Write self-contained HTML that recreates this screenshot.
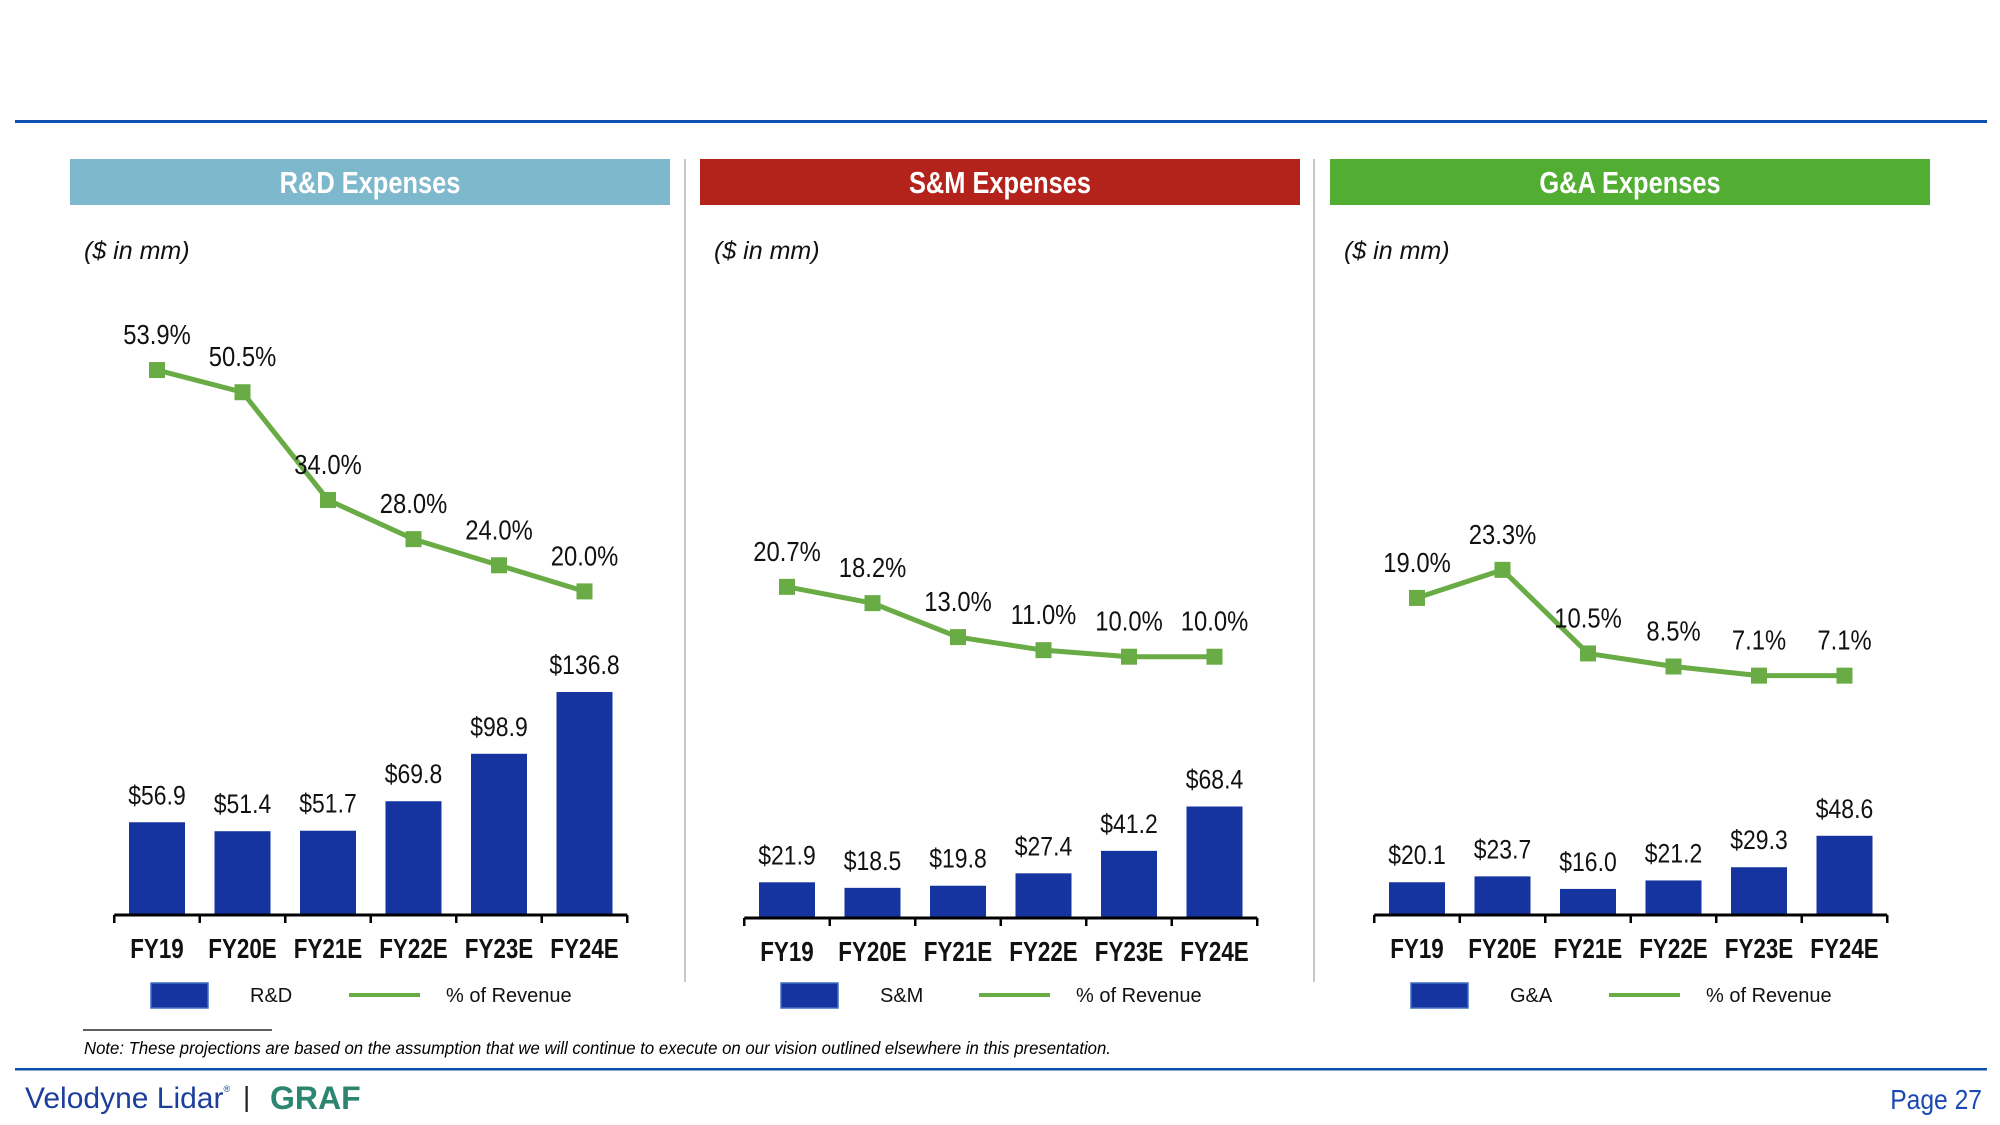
<!DOCTYPE html>
<html><head><meta charset="utf-8"><style>
html,body{margin:0;padding:0;background:#fff;}
svg{display:block;}
.n{font-family:"Liberation Sans Narrow","Liberation Sans",sans-serif;}
.s{font-family:"Liberation Sans",sans-serif;}
</style></head><body>
<svg id="chart" width="2000" height="1125" viewBox="0 0 2000 1125" xmlns="http://www.w3.org/2000/svg">
<rect x="15" y="120" width="1972" height="3" fill="#0f4fb0"/>
<rect x="15" y="1068" width="1972" height="2.5" fill="#0f4fb0"/>
<rect x="684" y="159" width="2" height="823" fill="#c8c8c8"/>
<rect x="1313" y="159" width="2" height="823" fill="#c8c8c8"/>
<line x1="83" y1="1030" x2="272" y2="1030" stroke="#000" stroke-width="1.2"/>
<text transform="translate(84,1054) scale(0.93,1)" class="n" font-style="italic" font-size="18" fill="#000">Note: These projections are based on the assumption that we will continue to execute on our vision outlined elsewhere in this presentation.</text>
<text x="25" y="1108" class="s" font-size="30" fill="#1d3f9c">Velodyne Lidar<tspan font-size="9" dy="-16">®</tspan></text>
<text x="243" y="1106" class="s" font-size="28" fill="#222">|</text>
<text x="270" y="1109" class="s" font-weight="bold" font-size="32" fill="#2c8571">GRAF</text>
<text transform="translate(1982,1109) scale(0.88,1)" text-anchor="end" class="n" font-size="28" fill="#1a49b4">Page 27</text>
<g id="panels"></g>
</svg>
<script>
const categories = ["FY19","FY20E","FY21E","FY22E","FY23E","FY24E"];
const rdValues = [56.9,51.4,51.7,69.8,98.9,136.8];
const rdPct = [53.9,50.5,34.0,28.0,24.0,20.0];
const smValues = [21.9,18.5,19.8,27.4,41.2,68.4];
const smPct = [20.7,18.2,13.0,11.0,10.0,10.0];
const gaValues = [20.1,23.7,16.0,21.2,29.3,48.6];
const gaPct = [19.0,23.3,10.5,8.5,7.1,7.1];
const panelTitles = ["R&D Expenses","S&M Expenses","G&A Expenses"];
const seriesNames = ["R&D","S&M","G&A"];

const NS="http://www.w3.org/2000/svg";
const root=document.getElementById('panels');
function mk(tag,attrs,parent){const e=document.createElementNS(NS,tag);for(const k in attrs)e.setAttribute(k,attrs[k]);(parent||root).appendChild(e);return e;}
function ntext(x,y,sx,attrs,parent){attrs.transform='translate('+x+','+y+') scale('+sx+',1)';return mk('text',attrs,parent);}
const colors=["#7eb8cc","#b3221b","#52ae32"];
const panels=[[rdValues,rdPct],[smValues,smPct],[gaValues,gaPct]];
const baselines=[915,918,915];
const pctY=v=>722-v*6.53;
const barH=v=>v*1.63;
panels.forEach((p,pi)=>{
  const ox=pi*630;
  const g=mk('g',{});
  
  
  const hdr=mk('rect',{x:70+ox,y:159,width:600,height:46,fill:colors[pi]},g);
  
  
  const ht=ntext(370+ox,193,0.82,{'text-anchor':'middle','class':'n','font-weight':'bold','font-size':31,fill:'#fff'},g);
  ht.textContent=panelTitles[pi];
  
  
  const un=mk('text',{x:84+ox,y:259,'class':'s','font-style':'italic','font-size':25,fill:'#111'},g);
  un.textContent='($ in mm)';
  
  
  const xc=i=>157+ox+i*85.5;
  const base=baselines[pi];
  const vals=p[0],pct=p[1];
  vals.forEach((v,i)=>{
    const b=mk('rect',{x:xc(i)-28,y:base-barH(v),width:56,height:barH(v),fill:'#1634a0'},g);
    
    
    const t=ntext(xc(i),base-barH(v)-18,0.85,{'text-anchor':'middle','class':'n','font-size':27,fill:'#111'},g);
    t.textContent='$'+v.toFixed(1);
    
    
    const c=ntext(xc(i),base+43,0.8,{'text-anchor':'middle','class':'n','font-weight':'bold','font-size':28,fill:'#111'},g);
    c.textContent=categories[i];
    
    
  });
  const ax=mk('line',{x1:xc(0)-42.75,y1:base,x2:xc(5)+42.75,y2:base,stroke:'#000','stroke-width':3},g);
  
  
  for(let i=0;i<=6;i++){
    const tk=mk('line',{x1:xc(0)-42.75+i*85.5,y1:base,x2:xc(0)-42.75+i*85.5,y2:base+8,stroke:'#000','stroke-width':2.5},g);
    
    
  }
  const pts=pct.map((v,i)=>xc(i)+','+pctY(v)).join(' ');
  const pl=mk('polyline',{points:pts,fill:'none',stroke:'#69ab45','stroke-width':5},g);
  
  
  pct.forEach((v,i)=>{
    const m=mk('rect',{x:xc(i)-8,y:pctY(v)-8,width:16,height:16,fill:'#69ab45'},g);
    
    
    const t=ntext(xc(i),pctY(v)-26,0.85,{'text-anchor':'middle','class':'n','font-size':28,fill:'#111'},g);
    t.textContent=v.toFixed(1)+'%';
    
    
  });
  const lr=mk('rect',{x:151+ox,y:983,width:57,height:25,fill:'#1634a0',stroke:'#3f6fc0','stroke-width':1.5},g);
  
  
  const lt=mk('text',{x:250+ox,y:1002,'class':'s','font-size':20,fill:'#111'},g);
  lt.textContent=seriesNames[pi];
  
  
  const ll=mk('line',{x1:349+ox,y1:995,x2:420+ox,y2:995,stroke:'#69ab45','stroke-width':4},g);
  
  
  const lt2=mk('text',{x:446+ox,y:1002,'class':'s','font-size':20,fill:'#111'},g);
  lt2.textContent='% of Revenue';
  
  
});
</script>
</body></html>
